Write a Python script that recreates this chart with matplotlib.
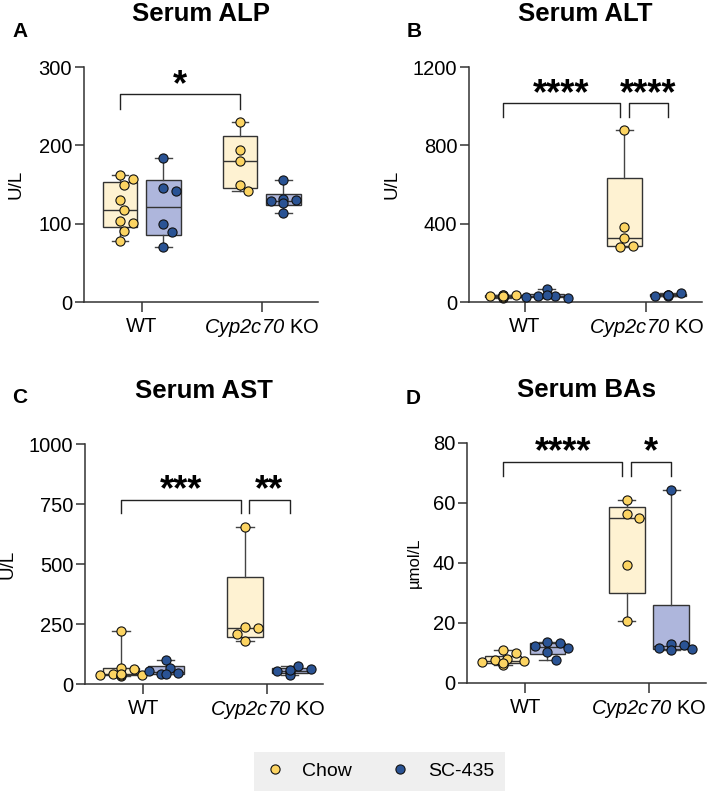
import matplotlib
matplotlib.use('Agg')
import matplotlib.pyplot as plt
import matplotlib.transforms as mtransforms
import numpy as np
from matplotlib.lines import Line2D

# serum values per group
alp_chow_wt = [162, 157, 150, 130, 118, 103, 101, 91, 78]
alp_sc_wt = [184, 146, 142, 100, 90, 70]
alp_chow_ko = [230, 194, 180, 150, 142]
alp_sc_ko = [156, 131, 130, 129, 127, 114]

alt_chow_wt = [30, 36, 33, 22, 38, 34, 27, 25, 30]
alt_sc_wt = [68, 31, 29, 20, 25, 34]
alt_chow_ko = [880, 383, 328, 286, 283]
alt_sc_ko = [38, 45, 32, 35, 33, 37]

ast_chow_wt = [222, 66, 64, 40, 38, 37, 35, 36, 40]
ast_sc_wt = [101, 65, 42, 45, 55, 40]
ast_chow_ko = [653, 236, 234, 210, 180]
ast_sc_ko = [49, 74, 53, 62, 39, 57]

ba_chow_wt = [11.1, 10.0, 8.1, 7.6, 7.2, 6.9, 6.4, 6.1, 6.7]
ba_sc_wt = [13.6, 13.2, 12.5, 11.7, 10.3, 7.6]
ba_chow_ko = [60.9, 56.4, 55.0, 39.4, 20.6]
ba_sc_ko = [64.2, 13.1, 12.8, 11.7, 11.3, 11.1]

groups = ['WT', '$\\mathrm{Cyp2c70}$ KO']
diets = ['Chow', 'SC-435']
titles = ['Serum ALP', 'Serum ALT', 'Serum AST', 'Serum BAs']
letters = ['A', 'B', 'C', 'D']
ylabels = ['U/L', 'U/L', 'U/L', 'µmol/L']
yticks_list = [[0, 100, 200, 300], [0, 400, 800, 1200],
               [0, 250, 500, 750, 1000], [0, 20, 40, 60, 80]]
# significance: (left group, right group, stars)
sig_list = [[('cw', 'ck', '*')],
            [('cw', 'ck', '****'), ('ck', 'sk', '****')],
            [('cw', 'ck', '***'), ('ck', 'sk', '**')],
            [('cw', 'ck', '****'), ('ck', 'sk', '*')]]
sig_y = [265, 1016, 768, 73.6]
sig_leg = [247, 945, 712, 68.9]
star_y = [285, 1094, 835, 78.9]

yellow = '#FCD462'
blue = '#2A5394'
yellow_box = '#FEF2D2'
blue_box = '#AEB6DC'
dark = '#333333'

plt.rcParams['font.family'] = 'Liberation Sans'
# italic gene name: mathtext "rm" is pointed at the italic face
plt.rcParams['mathtext.fontset'] = 'custom'
plt.rcParams['mathtext.rm'] = 'Liberation Sans:italic'
plt.rcParams['mathtext.it'] = 'Liberation Sans:italic'

W, H = 709, 793
fig = plt.figure(figsize=(W / 100, H / 100), dpi=100)


def px_axes(l, t, r, b):
    return fig.add_axes([l / W, 1 - b / H, (r - l) / W, (b - t) / H])


def swarm(ax, xc, vals, color):
    pts = ax.transData.transform(np.column_stack([np.full(len(vals), xc), vals]))
    d = 9.5
    placed = []
    for px, py in pts:
        best = None
        for k in [0, 1, -1, 2, -2, 3, -3, 4, -4, 5, -5]:
            cx = px + k * 4.2
            if all((cx - qx) ** 2 + (py - qy) ** 2 >= d ** 2 for qx, qy in placed):
                best = cx
                break
        if best is None:
            best = px
        placed.append((best, py))
    back = ax.transData.inverted().transform(np.array(placed))
    ax.plot(back[:, 0], back[:, 1], 'o', ms=6.6, mfc=color, mec='#111111',
            mew=0.8, zorder=5, clip_on=False)


axes_px = [(84, 67, 318, 302), (469, 67, 702, 302), (85, 444, 323, 684), (467, 443, 706, 683)]
xlims = [(-0.48, 1.47), (-0.46, 1.46), (-0.47, 1.45), (-0.47, 1.46)]
data = [(alp_chow_wt, alp_sc_wt, alp_chow_ko, alp_sc_ko),
        (alt_chow_wt, alt_sc_wt, alt_chow_ko, alt_sc_ko),
        (ast_chow_wt, ast_sc_wt, ast_chow_ko, ast_sc_ko),
        (ba_chow_wt, ba_sc_wt, ba_chow_ko, ba_sc_ko)]
label_x = [-0.256, -0.292, -0.286, -0.188]
off = 0.18
pos = {'cw': -off, 'sw': off, 'ck': 1 - off, 'sk': 1 + off}
star_size = 26

for i in range(4):
    ax = px_axes(*axes_px[i])
    yt = yticks_list[i]
    ax.set_xlim(*xlims[i])
    ax.set_ylim(0, yt[-1])
    ax.set_yticks(yt)
    ax.set_xticks([0, 1])
    ax.set_xticklabels(groups)
    for s in ['top', 'right']:
        ax.spines[s].set_visible(False)
    for s in ['left', 'bottom']:
        ax.spines[s].set_color(dark)
        ax.spines[s].set_linewidth(1.1)
    ax.tick_params(axis='y', length=6.5, width=1.1, color=dark, labelsize=14.5, pad=2)
    ax.tick_params(axis='x', length=7, width=1.1, color=dark, labelsize=14.5, pad=4)
    ax.set_ylabel(ylabels[i], fontsize=13.5 if i < 3 else 12)
    ax.yaxis.set_label_coords(label_x[i], 0.5)

    cw, sw, ck, sk = data[i]
    for vals, key, col, bcol in [(cw, 'cw', yellow, yellow_box), (sw, 'sw', blue, blue_box),
                                 (ck, 'ck', yellow, yellow_box), (sk, 'sk', blue, blue_box)]:
        q1, med, q3 = np.percentile(vals, [25, 50, 75], method='weibull')
        st = [dict(med=med, q1=q1, q3=q3, whislo=min(vals), whishi=max(vals), fliers=[])]
        ax.bxp(st, positions=[pos[key]], widths=0.29, patch_artist=True, showfliers=False,
               capwidths=[0.14], manage_ticks=False,
               boxprops=dict(facecolor=bcol, edgecolor=dark, linewidth=1.0),
               whiskerprops=dict(color='#444444', linewidth=1.0),
               capprops=dict(color='#444444', linewidth=1.0),
               medianprops=dict(color=dark, linewidth=1.0))
        swarm(ax, pos[key], vals, col)

    # shift so the asterisk glyph, not the text box, is centred on star_y
    star_tr = mtransforms.offset_copy(ax.transData, fig=fig, y=-0.45 * star_size, units='points')
    sigs = sig_list[i]
    for a, b, stars in sigs:
        x1, x2 = pos[a], pos[b]
        if len(sigs) > 1:
            if b == 'ck':
                x2 -= 0.035
            if a == 'ck':
                x1 += 0.035
        ax.plot([x1, x1, x2, x2], [sig_leg[i], sig_y[i], sig_y[i], sig_leg[i]],
                color='#222222', lw=1.0, clip_on=False)
        ax.text((x1 + x2) / 2, star_y[i], stars, ha='center', va='baseline',
                fontsize=star_size, fontweight='bold', transform=star_tr)

    l, t, r, b = axes_px[i]
    fig.text((l + r) / 2 / W, 1 - (t - 46) / H, titles[i], ha='center', va='baseline',
             fontsize=18.5, fontweight='bold')

letter_pos = [(12, 37), (407, 37), (12, 403), (406, 404)]
for (lx, ly), lt in zip(letter_pos, letters):
    fig.text(lx / W, 1 - ly / H, lt, ha='left', va='baseline', fontsize=15, fontweight='bold')

handles = [Line2D([], [], ls='', marker='o', ms=6.6, mfc=yellow, mec='#111111', mew=0.8),
           Line2D([], [], ls='', marker='o', ms=6.6, mfc=blue, mec='#111111', mew=0.8)]
leg = fig.legend(handles, diets, loc='center', bbox_to_anchor=(379.5 / W, 1 - 771 / H),
                 ncol=2, frameon=True, fancybox=False, facecolor='#efefef', edgecolor='none',
                 framealpha=1, fontsize=14, borderpad=0.55, handlelength=1.0,
                 handletextpad=0.9, columnspacing=2.0)

fig.savefig('out.png', dpi=100)
